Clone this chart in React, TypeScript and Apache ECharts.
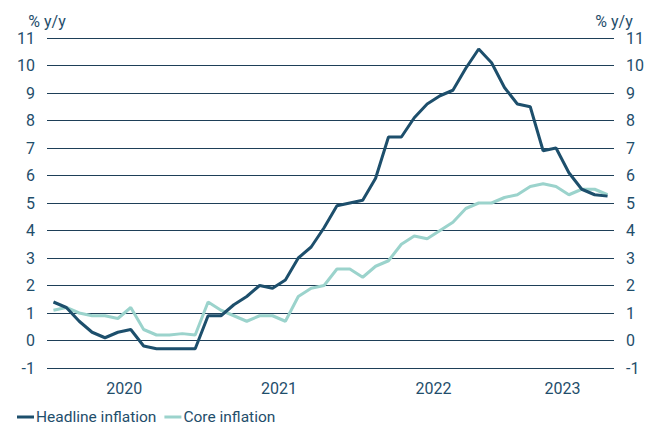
import React, { useEffect, useRef } from "react";
import * as echarts from "echarts";

const months: string[] = [];
const years = ["2020", "2021", "2022", "2023"];
const monthsPerYear = [12, 12, 12, 8];
years.forEach((y, i) => {
  for (let m = 1; m <= monthsPerYear[i]; m++) months.push(`${y}-${String(m).padStart(2, "0")}`);
});

const headline = [
  1.4, 1.2, 0.7, 0.3, 0.1, 0.3, 0.4, -0.2, -0.3, -0.3, -0.3, -0.3,
  0.9, 0.9, 1.3, 1.6, 2.0, 1.9, 2.2, 3.0, 3.4, 4.1, 4.9, 5.0,
  5.1, 5.9, 7.4, 7.4, 8.1, 8.6, 8.9, 9.1, 9.9, 10.6, 10.1, 9.2,
  8.6, 8.5, 6.9, 7.0, 6.1, 5.5, 5.3, 5.25,
];
const core = [
  1.1, 1.2, 1.0, 0.9, 0.9, 0.8, 1.2, 0.4, 0.2, 0.2, 0.25, 0.2,
  1.4, 1.1, 0.9, 0.7, 0.9, 0.9, 0.7, 1.6, 1.9, 2.0, 2.6, 2.6,
  2.3, 2.7, 2.9, 3.5, 3.8, 3.7, 4.0, 4.3, 4.8, 5.0, 5.0, 5.2,
  5.3, 5.6, 5.7, 5.6, 5.3, 5.5, 5.5, 5.3,
];

// year label positions (centre of each year's months, in month units)
const yearCentres: Record<number, string> = {};
{
  let start = 0;
  years.forEach((y, i) => {
    yearCentres[start + monthsPerYear[i] / 2] = y;
    start += monthsPerYear[i];
  });
}

const textColor = "#1f4e6b";
const gridColor = "#1e3f58";
const headColor = "#1d4f6c";
const coreColor = "#9bd3cc";
const font = "Roboto";

export default function App() {
  const ref = useRef<HTMLDivElement>(null);
  useEffect(() => {
    const chart = echarts.init(ref.current!, null, { renderer: "svg" });
    const yAxisCommon = {
      type: "value" as const,
      min: -1,
      max: 11,
      interval: 1,
      name: "% y/y",
      nameLocation: "end" as const,
      nameGap: 9,
      nameTextStyle: { color: textColor, fontSize: 16, fontFamily: font },
      axisLine: { show: false },
      axisTick: { show: false },
      axisLabel: { color: textColor, fontSize: 16, fontFamily: font, margin: 12 },
    };
    chart.setOption({
      animation: false,
      grid: { left: 47, right: 46, top: 38, bottom: 57, containLabel: false },
      xAxis: [
        {
          type: "category",
          data: months,
          boundaryGap: true,
          position: "top",
          axisLine: { show: false },
          axisTick: { show: false },
          axisLabel: { show: false },
          splitLine: { show: false },
        },
        {
          type: "value",
          min: 0,
          max: months.length,
          interval: 2,
          position: "bottom",
          axisLine: { show: false },
          axisTick: { show: false },
          splitLine: { show: false },
          axisLabel: {
            color: textColor,
            fontSize: 16,
            fontFamily: font,
            margin: 12,
            showMinLabel: true,
            showMaxLabel: true,
            formatter: (v: number) => yearCentres[v] ?? "",
          },
        },
      ],
      yAxis: [
        {
          ...yAxisCommon,
          position: "left",
          splitLine: { show: true, lineStyle: { color: gridColor, width: 1 } },
        },
        {
          ...yAxisCommon,
          position: "right",
          splitLine: { show: false },
        },
      ],
      legend: {
        left: 12,
        top: 404,
        icon: "rect",
        itemWidth: 17,
        itemHeight: 3,
        itemGap: 8,
        textStyle: { color: textColor, fontSize: 15.5, fontFamily: font, padding: [0, 0, 0, -3] },
        data: ["Headline inflation", "Core inflation"],
      },
      series: [
        {
          name: "Headline inflation",
          type: "line",
          xAxisIndex: 0,
          data: headline,
          symbol: "none",
          lineStyle: { color: headColor, width: 3 },
          itemStyle: { color: headColor },
          z: 3,
        },
        {
          name: "Core inflation",
          type: "line",
          xAxisIndex: 0,
          data: core,
          symbol: "none",
          lineStyle: { color: coreColor, width: 3 },
          itemStyle: { color: coreColor },
          z: 2,
        },
      ],
    });
    return () => chart.dispose();
  }, []);
  return <div ref={ref} style={{ width: 660, height: 425, position: "absolute", left: 0, top: 0 }} />;
}
